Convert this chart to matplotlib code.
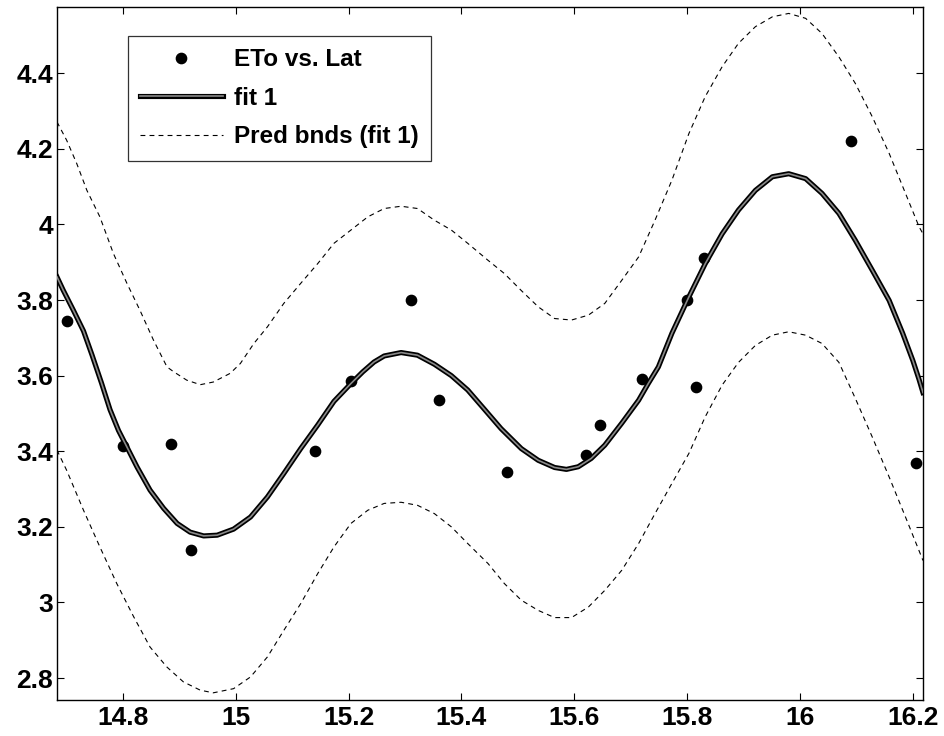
import matplotlib.pyplot as plt
import matplotlib.patheffects as pe

plt.rcParams['font.family'] = ['Liberation Sans', 'DejaVu Sans']
plt.rcParams['lines.scale_dashes'] = False

# data points (ETo vs. Lat)
lat = [14.70, 14.80, 14.885, 14.92, 15.14, 15.205, 15.31, 15.36, 15.48,
       15.62, 15.645, 15.72, 15.80, 15.815, 15.83, 16.09, 16.205]
eto = [3.745, 3.415, 3.42, 3.14, 3.40, 3.585, 3.80, 3.535, 3.345,
       3.39, 3.47, 3.59, 3.80, 3.57, 3.91, 4.22, 3.37]

# fitted curve
fit_x = [14.683, 14.694, 14.712, 14.730, 14.745, 14.762, 14.777, 14.792,
         14.807, 14.825, 14.848, 14.872, 14.896, 14.919, 14.943, 14.967, 14.996,
         15.026, 15.056, 15.085, 15.115, 15.145, 15.174, 15.204, 15.225, 15.245,
         15.263, 15.293, 15.322, 15.352, 15.382, 15.411, 15.440, 15.470, 15.506,
         15.536, 15.565, 15.586, 15.607, 15.630, 15.654, 15.684, 15.714, 15.731,
         15.749, 15.773, 15.803, 15.832, 15.862, 15.891, 15.921, 15.951, 15.980,
         16.010, 16.039, 16.069, 16.098, 16.128, 16.158, 16.182, 16.200, 16.211,
         16.218]
fit_y = [3.861, 3.826, 3.773, 3.718, 3.655, 3.580, 3.510, 3.455,
         3.411, 3.358, 3.297, 3.249, 3.209, 3.186, 3.176, 3.178, 3.194,
         3.226, 3.279, 3.341, 3.407, 3.469, 3.532, 3.579, 3.610, 3.636,
         3.652, 3.661, 3.654, 3.630, 3.600, 3.562, 3.512, 3.460, 3.407,
         3.376, 3.357, 3.352, 3.359, 3.381, 3.416, 3.474, 3.535, 3.579,
         3.623, 3.712, 3.808, 3.896, 3.975, 4.038, 4.090, 4.126, 4.134,
         4.121, 4.082, 4.029, 3.958, 3.879, 3.799, 3.712, 3.640, 3.590,
         3.555]

# prediction bounds
ub_x = [14.683, 14.700, 14.718, 14.736, 14.759, 14.783, 14.807, 14.830, 14.854,
        14.878, 14.890, 14.913, 14.937, 14.960, 14.990, 15.008, 15.032, 15.056,
        15.085, 15.115, 15.145, 15.174, 15.204, 15.234, 15.263, 15.293, 15.322,
        15.352, 15.382, 15.411, 15.447, 15.476, 15.506, 15.536, 15.565, 15.595,
        15.625, 15.654, 15.684, 15.714, 15.743, 15.773, 15.803, 15.832, 15.862,
        15.891, 15.921, 15.951, 15.980, 16.010, 16.039, 16.069, 16.098, 16.128,
        16.158, 16.187, 16.211, 16.218]
ub_y = [4.271, 4.223, 4.161, 4.090, 4.020, 3.923, 3.844, 3.773, 3.694,
        3.623, 3.610, 3.588, 3.576, 3.583, 3.606, 3.632, 3.685, 3.729,
        3.791, 3.844, 3.896, 3.950, 3.985, 4.020, 4.042, 4.048, 4.042,
        4.011, 3.985, 3.950, 3.905, 3.870, 3.825, 3.782, 3.751, 3.747,
        3.760, 3.791, 3.852, 3.914, 4.011, 4.117, 4.240, 4.338, 4.417,
        4.479, 4.523, 4.549, 4.558, 4.545, 4.505, 4.443, 4.373, 4.285,
        4.188, 4.082, 3.994, 3.975]
lb_x = [14.683, 14.700, 14.730, 14.759, 14.789, 14.819, 14.848, 14.878, 14.907,
        14.937, 14.960, 14.996, 15.026, 15.056, 15.085, 15.115, 15.145, 15.174,
        15.204, 15.234, 15.263, 15.293, 15.322, 15.352, 15.382, 15.411, 15.447,
        15.476, 15.506, 15.536, 15.565, 15.595, 15.625, 15.654, 15.684, 15.714,
        15.743, 15.773, 15.803, 15.832, 15.862, 15.891, 15.921, 15.951, 15.980,
        16.010, 16.039, 16.069, 16.098, 16.128, 16.158, 16.187, 16.218]
lb_y = [3.403, 3.350, 3.244, 3.147, 3.050, 2.962, 2.882, 2.829, 2.790,
        2.768, 2.761, 2.772, 2.803, 2.856, 2.926, 2.997, 3.076, 3.147,
        3.209, 3.244, 3.262, 3.265, 3.257, 3.235, 3.200, 3.156, 3.103,
        3.050, 3.006, 2.979, 2.960, 2.960, 2.988, 3.032, 3.085, 3.156,
        3.235, 3.315, 3.394, 3.491, 3.575, 3.635, 3.680, 3.707, 3.716,
        3.707, 3.685, 3.635, 3.540, 3.438, 3.332, 3.226, 3.111]

xticks = [14.8, 15, 15.2, 15.4, 15.6, 15.8, 16, 16.2]
yticks = [2.8, 3, 3.2, 3.4, 3.6, 3.8, 4, 4.2, 4.4]

fig = plt.figure(figsize=(9.45, 7.36), dpi=100)
ax = fig.add_axes([0.0603, 0.0489, 0.9164, 0.9416])

ax.plot(lat, eto, 'o', color='black', markersize=7.4, label='ETo vs. Lat', zorder=2)
ax.plot(fit_x, fit_y, color='#8a8a8a', lw=1.2, label='fit 1', zorder=3,
        solid_joinstyle='round',
        path_effects=[pe.Stroke(linewidth=3.7, foreground='black'), pe.Normal()])
ax.plot(ub_x, ub_y, color='black', lw=0.8, dashes=(3.5, 3.0),
        label='Pred bnds (fit 1)', zorder=2)
ax.plot(lb_x, lb_y, color='black', lw=0.8, dashes=(3.5, 3.0), zorder=2)

ax.set_xlim(14.683, 16.218)
ax.set_ylim(2.742, 4.575)
ax.set_xticks(xticks)
ax.set_xticklabels(['14.8', '15', '15.2', '15.4', '15.6', '15.8', '16', '16.2'])
ax.set_yticks(yticks)
ax.set_yticklabels(['2.8', '3', '3.2', '3.4', '3.6', '3.8', '4', '4.2', '4.4'])
ax.tick_params(direction='in', top=True, right=True, length=5, width=0.8,
               labelsize=19)
ax.tick_params(axis='x', pad=4)
ax.tick_params(axis='y', pad=3)
for lbl in ax.get_xticklabels() + ax.get_yticklabels():
    lbl.set_fontweight('bold')
for s in ax.spines.values():
    s.set_linewidth(1.0)

leg = ax.legend(loc='upper left', bbox_to_anchor=(0.082, 0.958),
                prop={'size': 17.5, 'weight': 'bold'},
                frameon=True, fancybox=False, edgecolor='black',
                handlelength=3.4, handletextpad=0.45, borderpad=0.5,
                labelspacing=0.64, borderaxespad=0)
leg.get_frame().set_linewidth(0.9)

fig.savefig('out.png', dpi=100)
